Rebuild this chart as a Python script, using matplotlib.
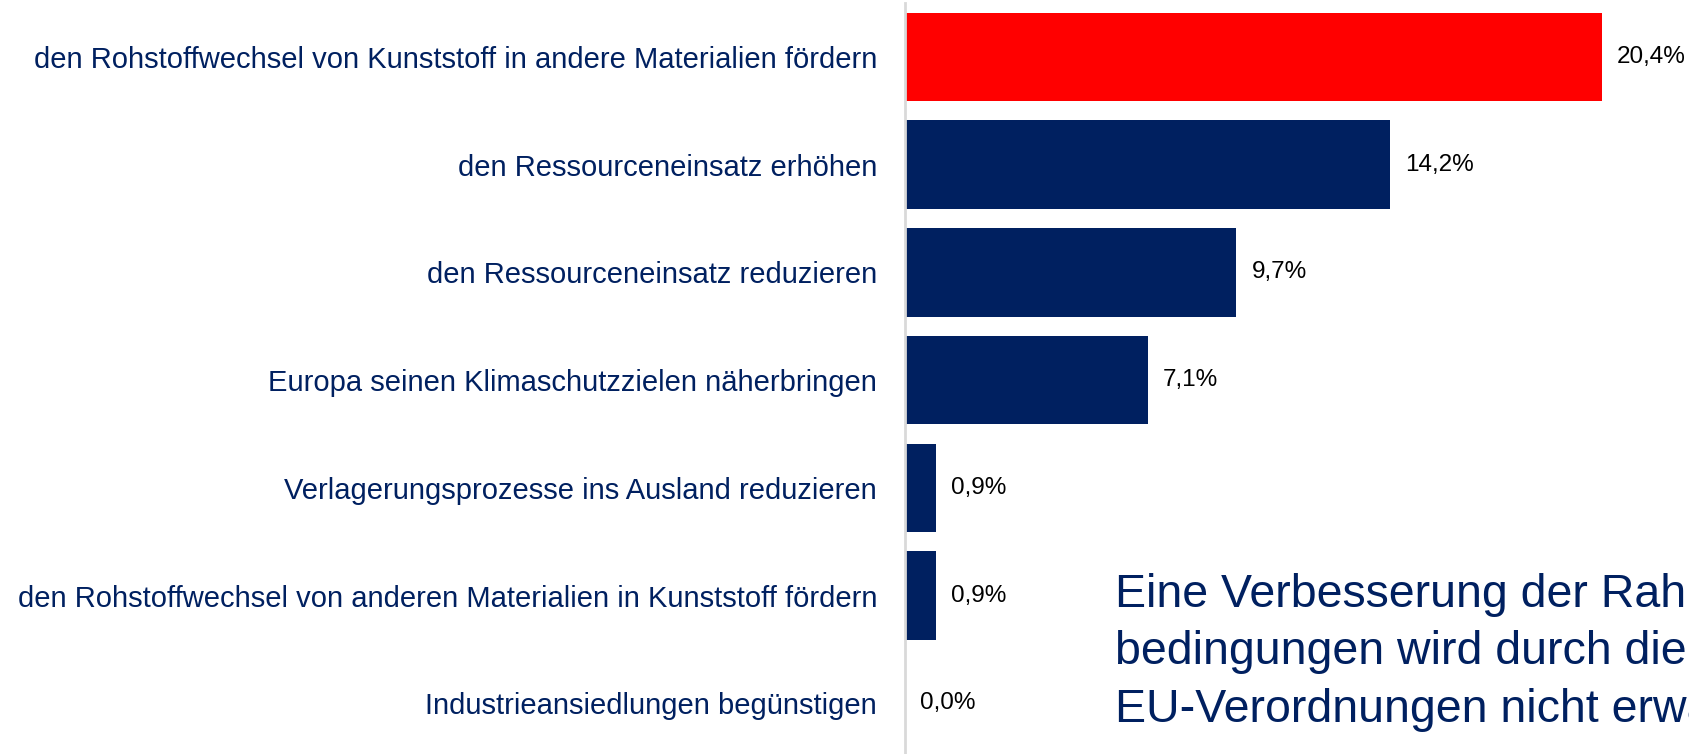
import matplotlib.pyplot as plt

categories = [
    "den Rohstoffwechsel von Kunststoff in andere Materialien fördern",
    "den Ressourceneinsatz erhöhen",
    "den Ressourceneinsatz reduzieren",
    "Europa seinen Klimaschutzzielen näherbringen",
    "Verlagerungsprozesse ins Ausland reduzieren",
    "den Rohstoffwechsel von anderen Materialien in Kunststoff fördern",
    "Industrieansiedlungen begünstigen",
]
values = [20.4, 14.2, 9.7, 7.1, 0.9, 0.9, 0.0]
highlight = [True, False, False, False, False, False, False]
note_lines = [
    "Eine Verbesserung der Rahmen-",
    "bedingungen wird durch die",
    "EU-Verordnungen nicht erwartet",
]

navy = "#002060"
red = "#FF0000"

plt.rcParams['font.family'] = ['Liberation Sans', 'DejaVu Sans']

W, H = 1689, 754
fig = plt.figure(figsize=(W / 100, H / 100), dpi=100)
ax = fig.add_axes([905 / W, 0, (W - 905) / W, 751 / H])

pos = list(range(len(categories)))
colors = [red if h else navy for h in highlight]
ax.barh(pos, values, height=0.82, color=colors)

ax.set_xlim(0, (W - 905) / 34.17)
ax.set_ylim(6.47, -0.5)

for y, v in zip(pos, values):
    ax.text(v + 0.44, y, f"{v:.1f}%".replace(".", ","), va="center", ha="left",
            fontsize=17.5, color="black")

ax.set_yticks(pos)
ax.set_yticklabels(categories, fontsize=21, color=navy)
ax.tick_params(axis="y", length=0, pad=20)
ax.set_xticks([])

for side in ["top", "right", "bottom"]:
    ax.spines[side].set_visible(False)
ax.spines["left"].set_color("#d9d9d9")
ax.spines["left"].set_linewidth(2)

# annotation, partly running off the right edge like in the original slide
for i, line in enumerate(note_lines):
    fig.text(1115 / W, 1 - (607 + 57.5 * i) / H, line, fontsize=33.5,
             color=navy, ha="left", va="baseline")

fig.savefig("out.png", dpi=100)
